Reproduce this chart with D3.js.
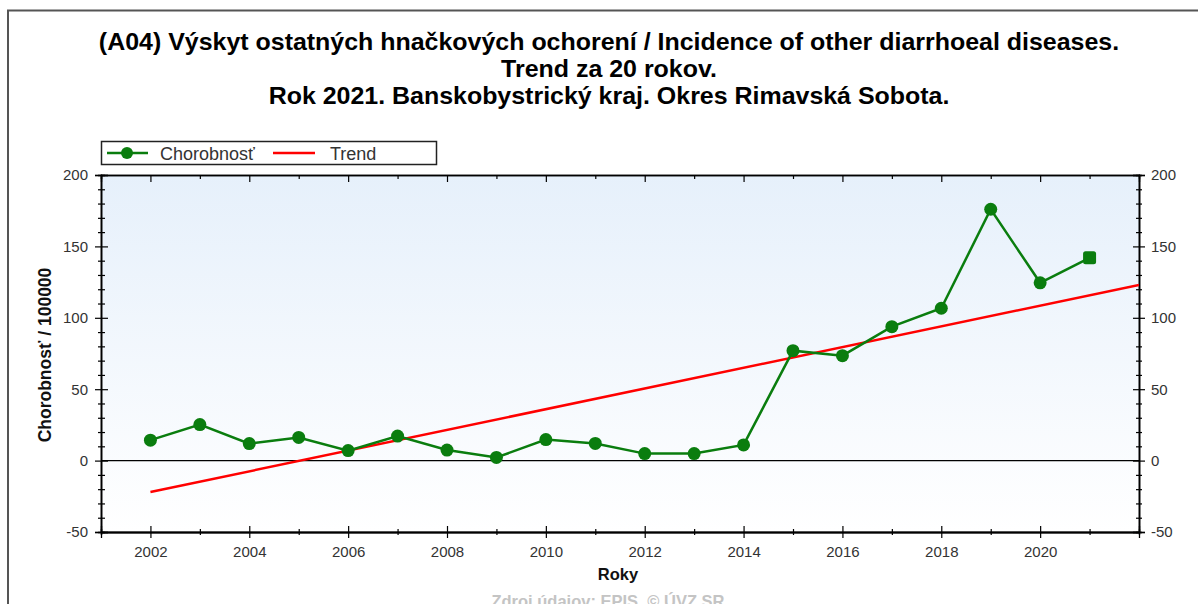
<!DOCTYPE html>
<html>
<head>
<meta charset="utf-8">
<script src="https://cdn.jsdelivr.net/npm/d3@7"></script>
<style>
  body { margin: 0; background: #fff; }
  svg text { font-family: "Liberation Sans", Arial, sans-serif; }
</style>
</head>
<body>
<div id="chart"></div>
<script>
var years = [2002, 2003, 2004, 2005, 2006, 2007, 2008, 2009, 2010, 2011,
             2012, 2013, 2014, 2015, 2016, 2017, 2018, 2019, 2020, 2021];
var incidence = [14.3, 25.2, 11.9, 16.2, 7.0, 17.2, 7.4, 2.2, 14.7, 12.0,
                 4.9, 4.9, 11.0, 77.0, 73.5, 93.8, 106.7, 176.0, 124.5, 142.0];
var trendYears = [2002, 2022];
var trendValues = [-22, 123];
var yTickLabels = [-50, 0, 50, 100, 150, 200];
var xTickLabels = [2002, 2004, 2006, 2008, 2010, 2012, 2014, 2016, 2018, 2020];
var titleLines = [
  "(A04) Výskyt ostatných hnačkových ochorení / Incidence of other diarrhoeal diseases.",
  "Trend za 20 rokov.",
  "Rok 2021. Banskobystrický kraj. Okres Rimavská Sobota."
];
var legendItems = ["Chorobnosť", "Trend"];

var W = 1198, H = 604;
var plot = { left: 101, right: 1139, top: 175, bottom: 532 };

var svg = d3.select("#chart").append("svg")
  .attr("width", W).attr("height", H);

// outer frame (only top and left visible in the crop)
svg.append("path")
  .attr("d", "M8," + H + "V10.5H" + W)
  .attr("fill", "none").attr("stroke", "#555").attr("stroke-width", 2);

svg.append("g").attr("transform", "translate(609,0) scale(1.04,1)")
  .selectAll("text").data(titleLines).enter().append("text")
  .attr("x", 0).attr("y", function(d, i) { return 50 + i * 27; })
  .attr("text-anchor", "middle")
  .attr("font-size", 24).attr("font-weight", "bold").attr("fill", "#000")
  .text(function(d) { return d; });

var x = d3.scaleLinear().domain([2001, 2022]).range([plot.left, plot.right]);
var y = d3.scaleLinear().domain([-50, 200]).range([plot.bottom, plot.top]);

// background gradient
var defs = svg.append("defs");
var grad = defs.append("linearGradient").attr("id", "bg")
  .attr("x1", 0).attr("y1", 0).attr("x2", 0).attr("y2", 1);
grad.append("stop").attr("offset", "0%").attr("stop-color", "#e6f0fb");
grad.append("stop").attr("offset", "100%").attr("stop-color", "#ffffff");
defs.append("clipPath").attr("id", "clip").append("rect")
  .attr("x", plot.left).attr("y", plot.top)
  .attr("width", plot.right - plot.left).attr("height", plot.bottom - plot.top);

svg.append("rect")
  .attr("x", plot.left).attr("y", plot.top)
  .attr("width", plot.right - plot.left).attr("height", plot.bottom - plot.top)
  .attr("fill", "url(#bg)");

// zero line
svg.append("line")
  .attr("x1", plot.left).attr("x2", plot.right)
  .attr("y1", y(0)).attr("y2", y(0))
  .attr("stroke", "#000").attr("stroke-width", 1.2);

var yMinor = d3.range(-50, 201, 10).filter(function(v) { return v % 50 !== 0; });
var xMinor = d3.range(2001, 2023, 1).filter(function(v) { return v % 2 !== 0; });
var plain = function(d) { return String(d); };

function styleAxis(g) {
  g.selectAll("path").attr("stroke", "#000").attr("stroke-width", 1.3);
  g.selectAll("line").attr("stroke", "#000").attr("stroke-width", 1.2);
  g.selectAll("text").attr("font-size", 15).attr("fill", "#333")
    .attr("font-family", "Liberation Sans, Arial, sans-serif");
}

function addAxis(gen, tx, ty) {
  return svg.append("g").attr("transform", "translate(" + tx + "," + ty + ")").call(gen).call(styleAxis);
}

// left axis: labels + crossing ticks
addAxis(d3.axisLeft(y).tickValues(yTickLabels).tickSize(6).tickPadding(7).tickFormat(plain), plot.left, 0);
addAxis(d3.axisRight(y).tickValues(yTickLabels).tickSize(7).tickFormat(""), plot.left, 0);
addAxis(d3.axisLeft(y).tickValues(yMinor).tickSize(3).tickFormat(""), plot.left, 0);
addAxis(d3.axisRight(y).tickValues(yMinor).tickSize(4).tickFormat(""), plot.left, 0);

// right axis
addAxis(d3.axisRight(y).tickValues(yTickLabels).tickSize(6).tickPadding(6).tickFormat(plain), plot.right, 0);
addAxis(d3.axisLeft(y).tickValues(yTickLabels).tickSize(6).tickFormat(""), plot.right, 0);
addAxis(d3.axisRight(y).tickValues(yMinor).tickSize(3).tickFormat(""), plot.right, 0);
addAxis(d3.axisLeft(y).tickValues(yMinor).tickSize(3).tickFormat(""), plot.right, 0);

// bottom axis
addAxis(d3.axisBottom(x).tickValues(xTickLabels).tickSize(6).tickPadding(8).tickFormat(plain), 0, plot.bottom);
addAxis(d3.axisTop(x).tickValues(xTickLabels).tickSize(6).tickFormat(""), 0, plot.bottom);
addAxis(d3.axisBottom(x).tickValues(xMinor).tickSize(3).tickFormat(""), 0, plot.bottom);
addAxis(d3.axisTop(x).tickValues(xMinor).tickSize(3).tickFormat(""), 0, plot.bottom);

// top axis, inward ticks
addAxis(d3.axisBottom(x).tickValues(xTickLabels).tickSize(7).tickFormat(""), 0, plot.top);
addAxis(d3.axisBottom(x).tickValues(xMinor).tickSize(4).tickFormat(""), 0, plot.top);

// axis titles
svg.append("text")
  .attr("transform", "translate(51," + 355 + ") rotate(-90)")
  .attr("text-anchor", "middle").attr("font-size", 17.5).attr("font-weight", "bold")
  .attr("fill", "#111").text("Chorobnosť / 100000");
svg.append("text")
  .attr("x", 618).attr("y", 580).attr("text-anchor", "middle")
  .attr("font-size", 16.5).attr("font-weight", "bold").attr("fill", "#111").text("Roky");
svg.append("text")
  .attr("x", 608).attr("y", 607).attr("text-anchor", "middle")
  .attr("font-size", 16.5).attr("font-weight", "bold").attr("fill", "#c4c4c4")
  .text("Zdroj údajov: EPIS, © ÚVZ SR");

var marks = svg.append("g").attr("clip-path", "url(#clip)");

// trend line
var trendPts = trendYears.map(function(yr, i) { return [yr, trendValues[i]]; });
marks.append("path")
  .datum(trendPts)
  .attr("d", d3.line().x(function(d) { return x(d[0]); }).y(function(d) { return y(d[1]); }))
  .attr("fill", "none").attr("stroke", "#ff0000").attr("stroke-width", 2.5);

var green = "#0a7d0e";
var pts = years.map(function(yr, i) { return [yr, incidence[i]]; });
marks.append("path")
  .datum(pts)
  .attr("d", d3.line().x(function(d) { return x(d[0]); }).y(function(d) { return y(d[1]); }))
  .attr("fill", "none").attr("stroke", green).attr("stroke-width", 2.5);

var last = years[years.length - 1];
marks.selectAll("circle.pt").data(pts.filter(function(d) { return d[0] !== last; }))
  .enter().append("circle").attr("class", "pt")
  .attr("cx", function(d) { return x(d[0]); })
  .attr("cy", function(d) { return y(d[1]); })
  .attr("r", 6.5).attr("fill", green);
marks.selectAll("rect.pt").data(pts.filter(function(d) { return d[0] === last; }))
  .enter().append("rect").attr("class", "pt")
  .attr("x", function(d) { return x(d[0]) - 6.5; })
  .attr("y", function(d) { return y(d[1]) - 6.5; })
  .attr("width", 13).attr("height", 13).attr("rx", 2.5).attr("fill", green);

// legend
var lg = svg.append("g");
lg.append("rect").attr("x", 101.5).attr("y", 141.5).attr("width", 335).attr("height", 23)
  .attr("fill", "#fff").attr("stroke", "#222").attr("stroke-width", 1.5);
lg.append("line").attr("x1", 107).attr("x2", 148).attr("y1", 153).attr("y2", 153)
  .attr("stroke", green).attr("stroke-width", 2.5);
lg.append("circle").attr("cx", 127).attr("cy", 153).attr("r", 6).attr("fill", green);
lg.append("line").attr("x1", 273).attr("x2", 315).attr("y1", 153).attr("y2", 153)
  .attr("stroke", "#ff0000").attr("stroke-width", 2.5);
lg.selectAll("text").data(legendItems).enter().append("text")
  .attr("x", function(d, i) { return i === 0 ? 160 : 330; })
  .attr("y", 159.5).attr("font-size", 18).attr("fill", "#333")
  .text(function(d) { return d; });
</script>
</body>
</html>
